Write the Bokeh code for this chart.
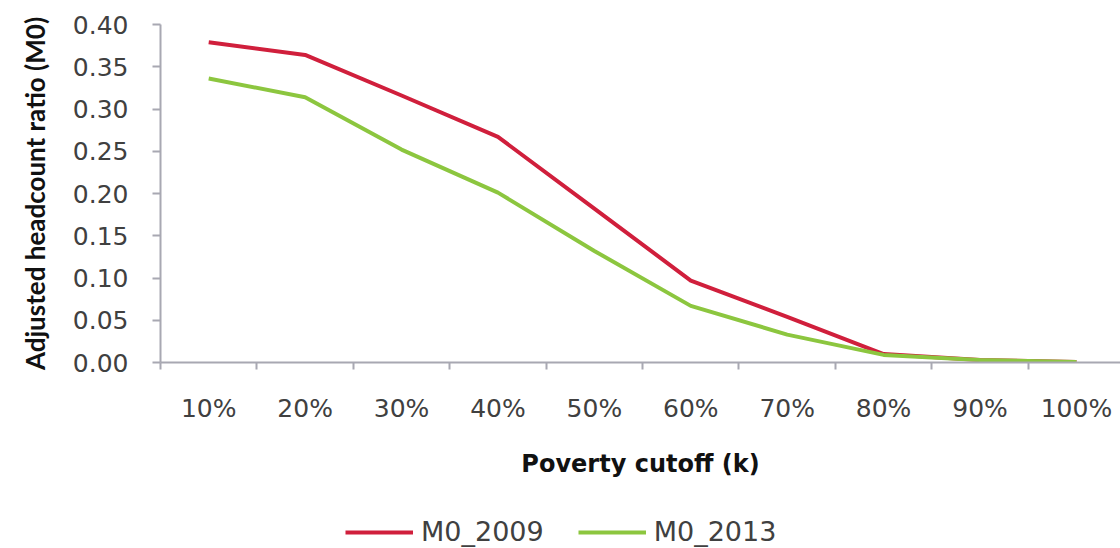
from bokeh.plotting import figure
from bokeh.layouts import column
from bokeh.models import FixedTicker, Legend, LegendItem, Range1d, NumeralTickFormatter
from bokeh.embed import file_html
from bokeh.resources import INLINE

categories = ["10%", "20%", "30%", "40%", "50%", "60%", "70%", "80%", "90%", "100%"]
m0_2009 = [0.379, 0.364, 0.316, 0.267, 0.182, 0.097, 0.054, 0.010, 0.003, 0.0005]
m0_2013 = [0.336, 0.314, 0.252, 0.201, 0.132, 0.067, 0.033, 0.009, 0.003, 0.0005]
y_ticks = [0.0, 0.05, 0.10, 0.15, 0.20, 0.25, 0.30, 0.35, 0.40]

RED = "#d01f3c"
GREEN = "#8cc63f"
AXIS = "#a8a8b2"

xs = [i + 1 for i in range(len(categories))]

p = figure(width=1120, height=488, output_backend="svg", toolbar_location=None,
           x_range=Range1d(0.5, 10.457), y_range=Range1d(0, 0.40),
           min_border_left=160, min_border_top=24, min_border_right=0, min_border_bottom=126)
p.outline_line_color = None
p.xgrid.visible = False
p.ygrid.visible = False
p.background_fill_color = "white"
p.border_fill_color = "white"

r1 = p.line(xs, m0_2009, line_color=RED, line_width=4, line_join="round")
r2 = p.line(xs, m0_2013, line_color=GREEN, line_width=4, line_join="round")

# x axis
xa = p.xaxis[0]
xa.ticker = FixedTicker(ticks=xs, minor_ticks=[x - 0.5 for x in xs])
xa.major_label_overrides = {x: c for x, c in zip(xs, categories)}
xa.major_tick_line_color = None
xa.major_tick_out = 0
xa.major_tick_in = 0
xa.minor_tick_line_color = AXIS
xa.minor_tick_line_width = 2
xa.minor_tick_out = 7
xa.minor_tick_in = 0
xa.axis_line_color = AXIS
xa.axis_line_width = 2
xa.major_label_text_font = "DejaVu Sans"
xa.major_label_text_font_size = "25px"
xa.major_label_text_color = "#404040"
xa.major_label_standoff = 24
xa.axis_label = "Poverty cutoff (k)"
xa.axis_label_text_font = "DejaVu Sans"
xa.axis_label_text_font_style = "bold"
xa.axis_label_text_font_size = "24px"
xa.axis_label_text_color = "#111111"
xa.axis_label_standoff = 24

# y axis
ya = p.yaxis[0]
ya.ticker = FixedTicker(ticks=y_ticks, minor_ticks=[])
ya.formatter = NumeralTickFormatter(format="0.00")
ya.major_tick_line_color = AXIS
ya.major_tick_line_width = 2
ya.major_tick_out = 8
ya.major_tick_in = 0
ya.minor_tick_line_color = None
ya.axis_line_color = AXIS
ya.axis_line_width = 2
ya.major_label_text_font = "DejaVu Sans"
ya.major_label_text_font_size = "25px"
ya.major_label_text_color = "#404040"
ya.major_label_standoff = 24
ya.axis_label = "Adjusted headcount ratio (M0)"
ya.axis_label_text_font = "Lato"
ya.axis_label_text_font_style = "bold"
ya.axis_label_text_font_size = "26px"
ya.axis_label_text_color = "#111111"
ya.axis_label_standoff = 19

# legend strip below the chart
pl = figure(width=1120, height=60, output_backend="svg", toolbar_location=None,
            x_range=Range1d(-2, -1), y_range=Range1d(-2, -1), min_border=0)
pl.axis.visible = False
pl.xgrid.visible = False
pl.ygrid.visible = False
pl.outline_line_color = None
lr1 = pl.line(xs, m0_2009, line_color=RED, line_width=4)
lr2 = pl.line(xs, m0_2013, line_color=GREEN, line_width=4)

legend = Legend(items=[LegendItem(label="M0_2009", renderers=[lr1]),
                       LegendItem(label="M0_2013", renderers=[lr2])],
                orientation="horizontal", location=(185, 1),
                glyph_width=68, glyph_height=30, label_standoff=8, spacing=34,
                padding=0, margin=0, border_line_color=None, background_fill_alpha=0,
                label_text_font="DejaVu Sans", label_text_font_size="27px",
                label_text_color="#404040")
pl.add_layout(legend)

open("out.html", "w").write(file_html(column(p, pl, spacing=0), INLINE))
